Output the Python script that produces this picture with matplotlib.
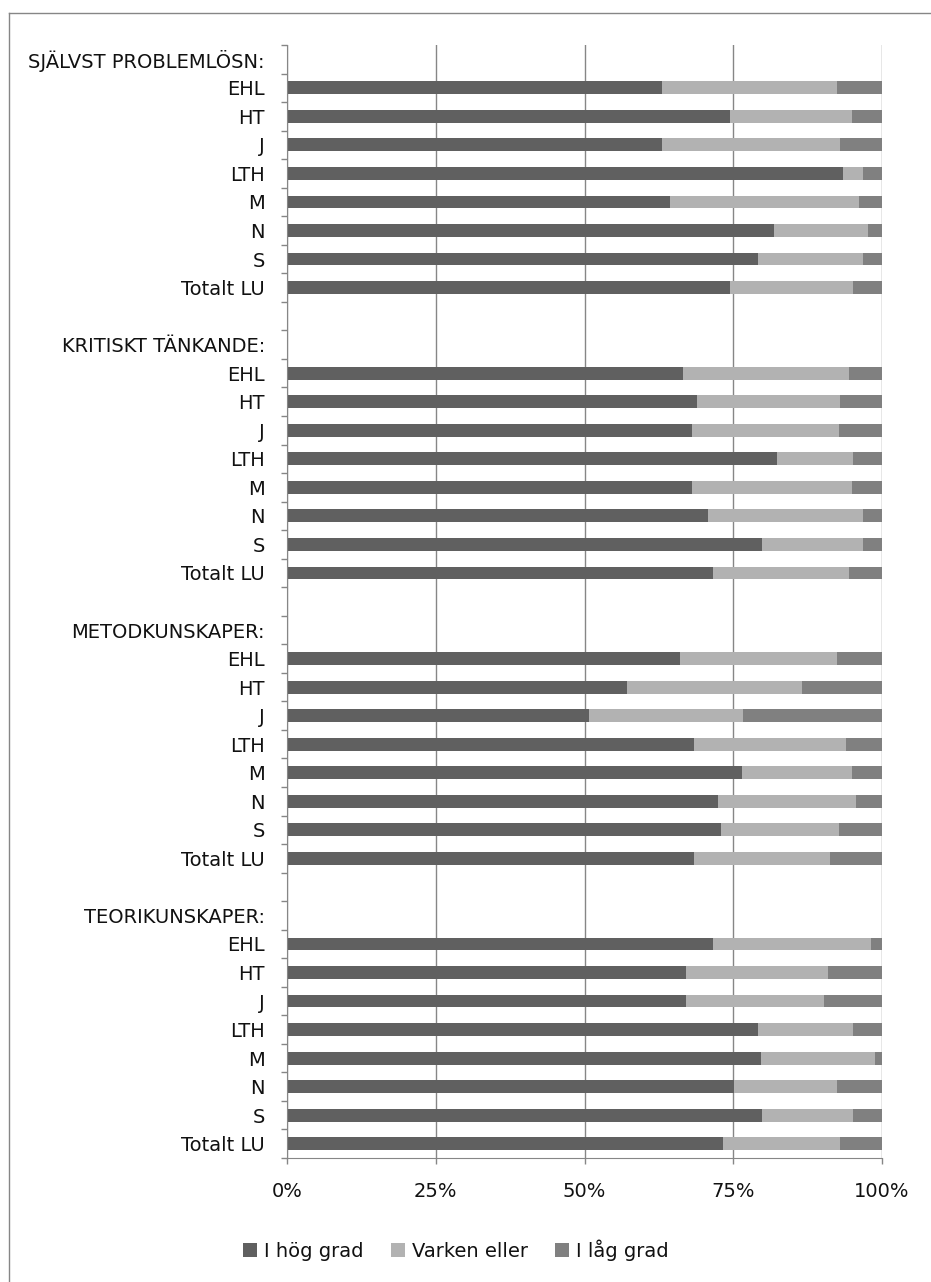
import numpy as np
import matplotlib
matplotlib.use("Agg")
import matplotlib.pyplot as plt
from matplotlib.lines import Line2D

plt.rcParams['font.family'] = ['DejaVu Sans']

groups = ['SJÄLVST PROBLEMLÖSN:', 'KRITISKT TÄNKANDE:', 'METODKUNSKAPER:', 'TEORIKUNSKAPER:']
units = ['EHL', 'HT', 'J', 'LTH', 'M', 'N', 'S', 'Totalt LU']
series = ['I hög grad', 'Varken eller', 'I låg grad']

# percent per unit, one list per group
hog_problem = [63.0, 74.5, 63.0, 93.5, 64.3, 81.8, 79.1, 74.5]
varken_problem = [29.5, 20.4, 30.0, 3.3, 31.8, 15.8, 17.7, 20.7]
lag_problem = [7.5, 5.1, 7.0, 3.2, 3.9, 2.4, 3.2, 4.8]

hog_kritiskt = [66.5, 68.9, 68.0, 82.3, 68.0, 70.7, 79.8, 71.6]
varken_kritiskt = [27.9, 24.1, 24.8, 12.9, 26.9, 26.1, 17.0, 22.8]
lag_kritiskt = [5.6, 7.0, 7.2, 4.8, 5.1, 3.2, 3.2, 5.6]

hog_metod = [66.0, 57.1, 50.7, 68.4, 76.4, 72.4, 72.9, 68.4]
varken_metod = [26.5, 29.5, 26.0, 25.5, 18.5, 23.3, 19.9, 22.8]
lag_metod = [7.5, 13.4, 23.3, 6.1, 5.1, 4.3, 7.2, 8.8]

hog_teori = [71.6, 67.0, 67.0, 79.2, 79.6, 75.2, 79.8, 73.2]
varken_teori = [26.5, 23.9, 23.2, 16.0, 19.3, 17.3, 15.4, 19.8]
lag_teori = [1.9, 9.1, 9.8, 4.8, 1.1, 7.5, 4.8, 7.0]

colors = ['#606060', '#b2b2b2', '#808080']

hog_all = [hog_problem, hog_kritiskt, hog_metod, hog_teori]
varken_all = [varken_problem, varken_kritiskt, varken_metod, varken_teori]
lag_all = [lag_problem, lag_kritiskt, lag_metod, lag_teori]

# build category list: header, 8 units, blank spacer between groups
labels, hog, varken, lag = [], [], [], []
for g in range(len(groups)):
    if g > 0:
        labels.append('')
        hog.append(0); varken.append(0); lag.append(0)
    labels.append(groups[g])
    hog.append(0); varken.append(0); lag.append(0)
    labels += units
    hog += hog_all[g]; varken += varken_all[g]; lag += lag_all[g]

hog = np.array(hog); varken = np.array(varken); lag = np.array(lag)
y = np.arange(len(labels))

fig = plt.figure(figsize=(9.31, 12.82), dpi=100)
ax = fig.add_axes([287/931, 1 - 1158/1282, 595/931, 1113/1282])

h = 0.45
ax.barh(y, hog, height=h, color=colors[0], label=series[0], zorder=3)
ax.barh(y, varken, left=hog, height=h, color=colors[1], label=series[1], zorder=3)
ax.barh(y, lag, left=hog + varken, height=h, color=colors[2], label=series[2], zorder=3)

ax.set_xlim(0, 100)
ax.set_ylim(len(labels) - 0.5, -0.5)
ax.set_xticks([0, 25, 50, 75, 100])
ax.set_xticklabels(['0%', '25%', '50%', '75%', '100%'])
ax.set_yticks(y)
ax.set_yticklabels(labels)
ax.set_yticks(np.arange(len(labels) + 1) - 0.5, minor=True)

ax.tick_params(axis='y', which='major', length=0, pad=16, labelsize=14, labelcolor='#111111')
ax.tick_params(axis='y', which='minor', length=4.5, width=1, color='#868686', direction='out')
ax.tick_params(axis='x', length=4.5, width=1, color='#868686', pad=13, labelsize=14, labelcolor='#111111')

ax.grid(axis='x', color='#868686', linewidth=1, zorder=0)
for s in ['top', 'right']:
    ax.spines[s].set_visible(False)
for s in ['left', 'bottom']:
    ax.spines[s].set_color('#868686')
    ax.spines[s].set_zorder(4)

fig.legend(loc='center', bbox_to_anchor=(456/931, 1 - 1250/1282), ncol=3, frameon=False,
           fontsize=14, handlelength=0.72, handleheight=0.72, handletextpad=0.36,
           columnspacing=1.4, labelcolor='#111111')

# chart frame (only left and top edges are visible in the picture)
fig.add_artist(Line2D([9/931, 9/931], [0, 1 - 13/1282], transform=fig.transFigure,
                      color='#868686', linewidth=1))
fig.add_artist(Line2D([9/931, 1], [1 - 13/1282, 1 - 13/1282], transform=fig.transFigure,
                      color='#868686', linewidth=1))

fig.savefig('out.png', dpi=100)
